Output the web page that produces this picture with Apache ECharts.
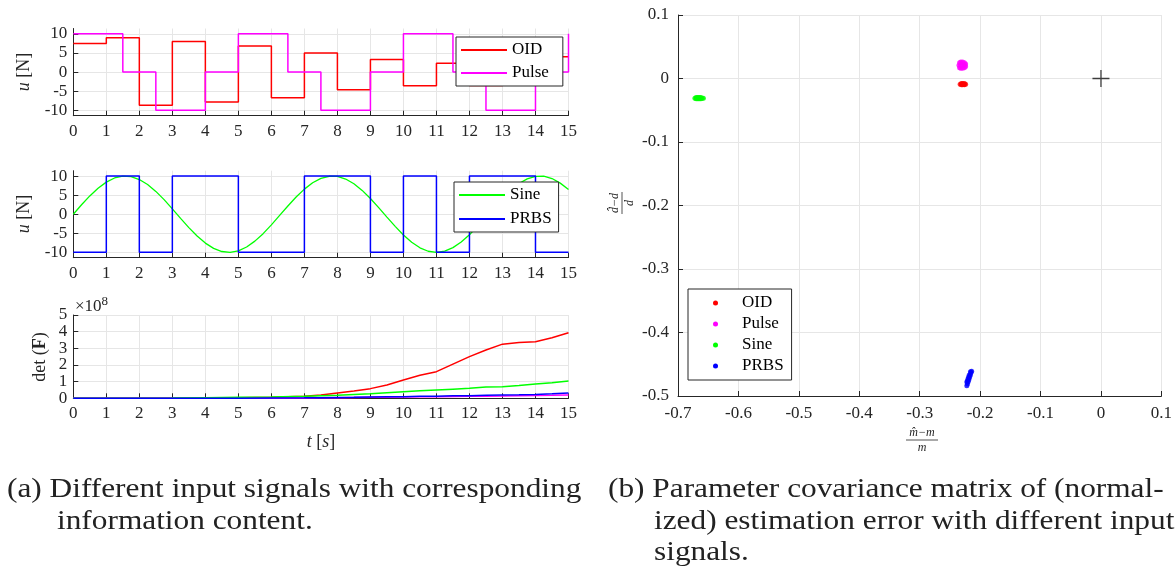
<!DOCTYPE html>
<html>
<head>
<meta charset="utf-8">
<script src="https://cdn.jsdelivr.net/npm/echarts@6/dist/echarts.min.js"></script>
<style>
html,body{margin:0;padding:0;background:#fff;}
#c{width:1175px;height:577px;}
</style>
</head>
<body>
<div id="c"></div>
<script>
// ---------- data ----------
const uTicks = [-10,-5,0,5,10];
const detTicks = [0,1,2,3,4,5];
const detLabelsEven = [0,2,4];
const detLabelsOdd = [1,3,5];

const tOID = [0,1,2,3,4,5,6,7,8,9,10,11,12,13,14,15];
const uOID = [7.5,9,-8.7,8,-7.8,6.8,-6.7,5,-4.6,3.3,-3.6,2.3,-3.5,1.5,4,4];

const tPulse = [0,1.5,2.5,4,5,6.5,7.5,9,10,11.5,12.5,14,15];
const uPulse = [10,0,-10,0,10,0,-10,0,10,0,-10,0,10];

const tSine = [0,0.25,0.5,0.75,1,1.25,1.5,1.75,2,2.25,2.5,2.75,3,3.25,3.5,3.75,4,4.25,4.5,4.75,5,5.25,5.5,5.75,6,6.25,6.5,6.75,7,7.25,7.5,7.75,8,8.25,8.5,8.75,9,9.25,9.5,9.75,10,10.25,10.5,10.75,11,11.25,11.5,11.75,12,12.25,12.5,12.75,13,13.25,13.5,13.75,14,14.25,14.5,14.75,15];
const uSine = [0,2.47,4.79,6.82,8.41,9.49,9.97,9.84,9.09,7.78,5.98,3.82,1.41,-1.08,-3.51,-5.72,-7.57,-8.95,-9.78,-9.99,-9.59,-8.59,-7.06,-5.10,-2.79,-0.32,2.15,4.50,6.57,8.24,9.38,9.94,9.89,9.22,7.98,6.24,4.12,1.73,-0.75,-3.19,-5.44,-7.35,-8.80,-9.71,-10.0,-9.66,-8.75,-7.28,-5.37,-3.11,-0.66,1.81,4.20,6.31,8.04,9.25,9.91,9.96,9.35,8.14,6.50];

const tPRBS = [0,1,2,3,5,7,9,10,11,12,14,15];
const uPRBS = [-10,10,-10,10,-10,10,-10,10,-10,10,-10,-10];

const tDet = [0,1,2,3,4,5,6,7,7.5,8,8.5,9,9.5,10,10.5,11,11.5,12,12.5,13,13.5,14,14.5,15];
const detOID = [0,0,0,0.01,0.02,0.04,0.07,0.12,0.2,0.32,0.44,0.58,0.8,1.1,1.38,1.6,2.05,2.5,2.9,3.25,3.35,3.4,3.63,3.94];
const detPulse = [0,0,0,0,0,0,0.01,0.02,0.03,0.04,0.05,0.06,0.07,0.08,0.09,0.1,0.11,0.12,0.13,0.14,0.16,0.17,0.18,0.2];
const detSine = [0,0,0.01,0.02,0.04,0.06,0.08,0.12,0.15,0.18,0.23,0.28,0.34,0.4,0.45,0.5,0.55,0.6,0.68,0.7,0.77,0.86,0.94,1.04];
const detPRBS = [0,0,0,0,0,0.01,0.02,0.03,0.04,0.05,0.06,0.08,0.09,0.1,0.12,0.13,0.15,0.16,0.18,0.2,0.21,0.23,0.27,0.32];

// estimation error clouds: [ (m^-m)/m , (d^-d)/d ]
const errOID = [[-0.233,-0.009],[-0.231,-0.010],[-0.231,-0.008],[-0.229,-0.010],[-0.229,-0.008],[-0.227,-0.009],[-0.226,-0.010],[-0.226,-0.008],[-0.224,-0.009],[-0.228,-0.009]];
const errPulse = [[-0.235,0.021],[-0.234,0.017],[-0.234,0.025],[-0.232,0.016],[-0.232,0.026],[-0.229,0.016],[-0.229,0.021],[-0.229,0.026],[-0.226,0.017],[-0.226,0.025],[-0.224,0.019],[-0.224,0.023],[-0.232,0.021],[-0.226,0.021]];
const errSine = [[-0.672,-0.031],[-0.670,-0.030],[-0.670,-0.032],[-0.668,-0.030],[-0.668,-0.032],[-0.666,-0.030],[-0.666,-0.032],[-0.664,-0.030],[-0.664,-0.032],[-0.662,-0.030],[-0.662,-0.032],[-0.660,-0.031],[-0.658,-0.031]];
const errPRBS = [[-0.222,-0.484],[-0.221,-0.481],[-0.220,-0.478],[-0.222,-0.478],[-0.219,-0.475],[-0.218,-0.472],[-0.220,-0.473],[-0.217,-0.469],[-0.218,-0.467],[-0.216,-0.466],[-0.215,-0.463],[-0.214,-0.461],[-0.216,-0.462],[-0.219,-0.470],[-0.221,-0.476]];
const origin = [[0,0]];

// ---------- helpers ----------
const zip = (a,b) => a.map((v,i)=>[v,b[i]]);
const AX = '#262626', GRID = '#e6e6e6', FONT = 'Liberation Serif';
const RED='#ff0000', MAG='#ff00ff', GRN='#00ff00', BLU='#0000ff';
const fmt1 = v => String(Math.round(v*10)/10);

function lbl(margin, ticks, fmt){
  const o = {show:true,color:AX,fontFamily:FONT,fontSize:17,margin:margin,
    showMinLabel:true,showMaxLabel:true,hideOverlap:false};
  if (ticks) o.customValues = ticks;
  if (fmt) o.formatter = fmt;
  return o;
}
function tick(ticks){
  const o = {show:true,inside:true,length:5,lineStyle:{color:AX,width:1}};
  if (ticks) o.customValues = ticks;
  return o;
}
function xAx(gi){
  return {type:'value', gridIndex:gi, min:0, max:15, interval:1,
    axisLine:{show:true,onZero:false,lineStyle:{color:AX,width:1}},
    axisTick:tick(), axisLabel:lbl(7),
    splitLine:{show:true,lineStyle:{color:GRID,width:1}}};
}
function yAx(gi,min,max,ticks,labels){
  return {type:'value', gridIndex:gi, min:min, max:max,
    axisLine:{show:true,onZero:false,lineStyle:{color:AX,width:1}},
    axisTick:tick(ticks), axisLabel:lbl(6,labels||ticks),
    splitLine:{show:true,lineStyle:{color:GRID,width:1}}};
}

const chart = echarts.init(document.getElementById('c'), null, {renderer:'canvas'});
const xa = [xAx(0),xAx(1),xAx(2),
  {type:'value',gridIndex:3,min:-0.7,max:0.1,interval:0.1,
    axisLine:{show:true,onZero:false,lineStyle:{color:AX}},
    axisTick:tick(), axisLabel:lbl(9,null,fmt1),
    splitLine:{show:true,lineStyle:{color:GRID}}}];
const ya = [yAx(0,-11.4,11.4,uTicks),yAx(1,-11.4,11.4,uTicks),yAx(2,0,5,detTicks,detLabelsEven),
  {type:'value',gridIndex:3,min:-0.5,max:0.1,interval:0.1,
    axisLine:{show:true,onZero:false,lineStyle:{color:AX}},
    axisTick:tick(), axisLabel:lbl(9,null,fmt1),
    splitLine:{show:true,lineStyle:{color:GRID}}},
  // second label set for the det(F) axis (same scale, same side)
  {type:'value',gridIndex:2,min:0,max:5,position:'left',
    axisLine:{show:false,onZero:false},axisTick:{show:false},
    axisLabel:lbl(6,detLabelsOdd),splitLine:{show:false}}];

function stepLine(name,xi,t,u,color){
  return {type:'line',name:name,xAxisIndex:xi,yAxisIndex:xi,step:'end',data:zip(t,u),
    showSymbol:false,symbol:'none',color:color,lineStyle:{color:color,width:1.5},z:3};
}
function plainLine(name,xi,t,u,color,w){
  return {type:'line',name:name,xAxisIndex:xi,yAxisIndex:xi,data:zip(t,u),
    showSymbol:false,symbol:'none',color:color,lineStyle:{color:color,width:w||1.5},z:3};
}
function cloud(name,d,color){
  return {type:'scatter',name:name,xAxisIndex:3,yAxisIndex:3,data:d,symbol:'circle',symbolSize:5,
    itemStyle:{color:color},color:color,z:4};
}
function caption(x,y,text){
  return {type:'text',x:x,y:y,scaleX:1.16,style:{text:text,fontFamily:FONT,fontSize:27,fill:'#222',align:'left',verticalAlign:'middle'}};
}

const legText = {fontFamily:FONT,fontSize:17,color:'#000',lineHeight:18};
const option = {
  animation:false,
  backgroundColor:'#fff',
  textStyle:{fontFamily:FONT},
  grid:[
    {left:73.3,top:28.5,width:495.2,height:87.2,containLabel:false},
    {left:73.3,top:170.7,width:495.2,height:87,containLabel:false},
    {left:73.3,top:315,width:495.2,height:83.3,containLabel:false},
    {left:678,top:15,width:488.5,height:381,containLabel:false}
  ],
  xAxis:xa, yAxis:ya,
  legend:[
    {orient:'vertical',left:456,top:37,padding:[4,14,4,5],itemGap:5,itemWidth:46,itemHeight:2,
      icon:'rect',backgroundColor:'#fff',borderColor:'#262626',borderWidth:1,borderRadius:0,
      data:['OID','Pulse'],textStyle:legText,selectedMode:false},
    {orient:'vertical',left:454,top:182,padding:[4,7,4,5],itemGap:6,itemWidth:46,itemHeight:2,
      icon:'rect',backgroundColor:'#fff',borderColor:'#262626',borderWidth:1,borderRadius:0,
      data:['Sine','PRBS'],textStyle:legText,selectedMode:false},
    {orient:'vertical',left:688,top:289,padding:[5,8,5,25],itemGap:3,itemWidth:5,itemHeight:5,
      icon:'circle',backgroundColor:'#fff',borderColor:'#262626',borderWidth:1,borderRadius:0,
      data:['OID','Pulse','Sine','PRBS'],
      textStyle:Object.assign({},legText,{padding:[0,0,0,19]}),selectedMode:false}
  ],
  series:[
    stepLine('OID',0,tOID,uOID,RED),
    stepLine('Pulse',0,tPulse,uPulse,MAG),
    plainLine('Sine',1,tSine,uSine,GRN,1.3),
    stepLine('PRBS',1,tPRBS,uPRBS,BLU),
    plainLine('det OID',2,tDet,detOID,RED),
    plainLine('det Pulse',2,tDet,detPulse,MAG),
    plainLine('det Sine',2,tDet,detSine,GRN),
    plainLine('det PRBS',2,tDet,detPRBS,BLU),
    cloud('OID',errOID,RED),
    cloud('Pulse',errPulse,MAG),
    cloud('Sine',errSine,GRN),
    cloud('PRBS',errPRBS,BLU),
    {type:'scatter',name:'true',xAxisIndex:3,yAxisIndex:3,data:origin,
      symbol:'path://M0,7.4H16V8.6H0Z M7.4,0H8.6V16H7.4Z',symbolSize:17,
      itemStyle:{color:'#111'},z:5}
  ],
  graphic:[
    {type:'text',x:24,y:72,rotation:Math.PI/2,style:{text:'{i|u} [N]',fontFamily:FONT,fontSize:18,fill:'#262626',
      align:'center',verticalAlign:'middle',rich:{i:{fontStyle:'italic',fontFamily:FONT,fontSize:18,fill:'#262626'}}}},
    {type:'text',x:24,y:214,rotation:Math.PI/2,style:{text:'{i|u} [N]',fontFamily:FONT,fontSize:18,fill:'#262626',
      align:'center',verticalAlign:'middle',rich:{i:{fontStyle:'italic',fontFamily:FONT,fontSize:18,fill:'#262626'}}}},
    {type:'text',x:40,y:357,rotation:Math.PI/2,style:{text:'det ({b|F})',fontFamily:FONT,fontSize:18,fill:'#262626',
      align:'center',verticalAlign:'middle',rich:{b:{fontWeight:'bold',fontFamily:FONT,fontSize:18,fill:'#262626'}}}},
    {type:'text',x:75,y:307,style:{text:'×10{s|8}',fontFamily:FONT,fontSize:17,fill:'#262626',
      align:'left',verticalAlign:'middle',rich:{s:{fontFamily:FONT,fontSize:13,fill:'#262626',verticalAlign:'bottom',padding:[0,0,10,0]}}}},
    {type:'text',x:321,y:442,style:{text:'{i|t} [{i|s}]',fontFamily:FONT,fontSize:18,fill:'#262626',
      align:'center',verticalAlign:'middle',rich:{i:{fontStyle:'italic',fontFamily:FONT,fontSize:18,fill:'#262626'}}}},
    {type:'group',x:922,y:440,children:[
      {type:'text',x:0,y:-7,style:{text:'m̂−m',fontFamily:FONT,fontStyle:'italic',fontSize:12,fill:'#262626',align:'center',verticalAlign:'middle'}},
      {type:'line',shape:{x1:-16,y1:0,x2:16,y2:0},style:{stroke:'#262626',lineWidth:0.8}},
      {type:'text',x:0,y:8,style:{text:'m',fontFamily:FONT,fontStyle:'italic',fontSize:12,fill:'#262626',align:'center',verticalAlign:'middle'}}
    ]},
    {type:'group',x:622,y:203,rotation:Math.PI/2,children:[
      {type:'text',x:0,y:-7,style:{text:'d̂−d',fontFamily:FONT,fontStyle:'italic',fontSize:12,fill:'#262626',align:'center',verticalAlign:'middle'}},
      {type:'line',shape:{x1:-11,y1:0,x2:11,y2:0},style:{stroke:'#262626',lineWidth:0.8}},
      {type:'text',x:0,y:8,style:{text:'d',fontFamily:FONT,fontStyle:'italic',fontSize:12,fill:'#262626',align:'center',verticalAlign:'middle'}}
    ]},
    caption(7,490,'(a) Different input signals with corresponding'),
    caption(57,522,'information content.'),
    caption(608,490,'(b) Parameter covariance matrix of (normal-'),
    caption(654,522,'ized) estimation error with different input'),
    caption(654,553,'signals.')
  ]
};
chart.setOption(option);
</script>
</body>
</html>
